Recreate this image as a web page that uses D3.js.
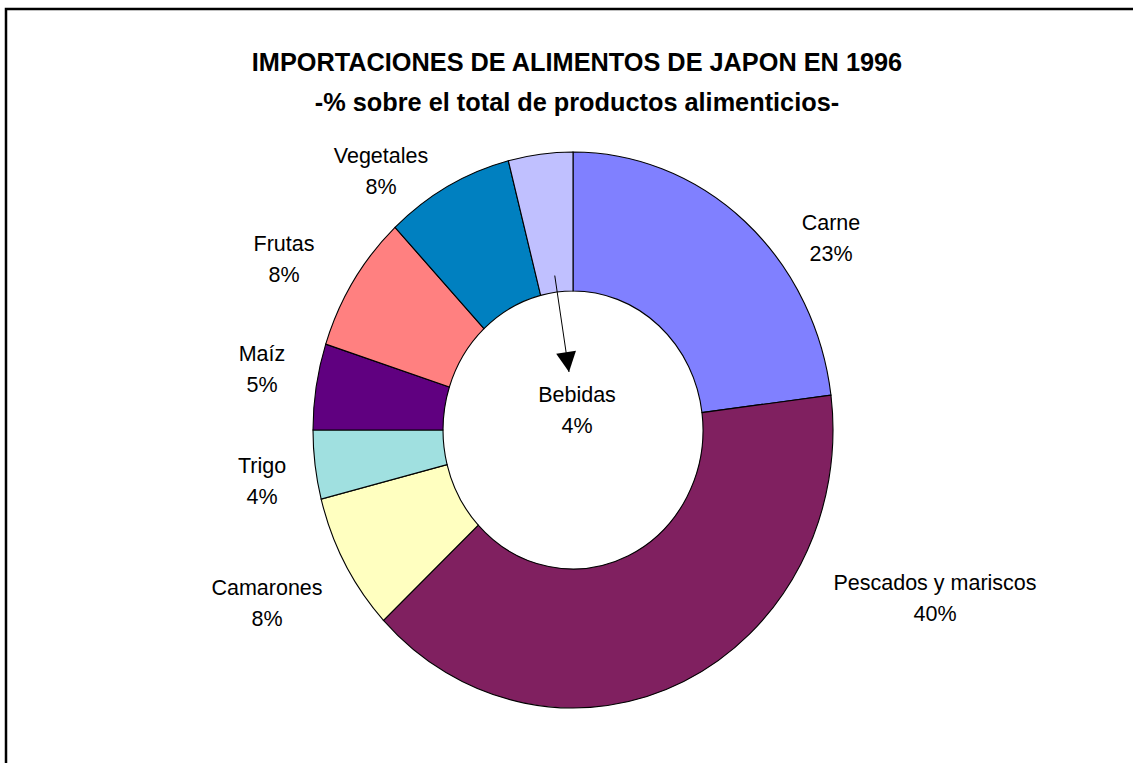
<!DOCTYPE html>
<html>
<head>
<meta charset="utf-8">
<script src="https://cdn.jsdelivr.net/npm/d3@7"></script>
<style>
  body { margin: 0; background: #fff; overflow: hidden; }
  svg { display: block; overflow: hidden; }
  text { font-family: Arial, "Liberation Sans", sans-serif; fill: #000; }
</style>
</head>
<body>
<svg id="chart" width="1133" height="763"></svg>
<script>
// data
const categories = ['Carne', 'Pescados y mariscos', 'Camarones', 'Trigo', 'Maíz', 'Frutas', 'Vegetales', 'Bebidas'];
const shares = [23, 40, 8, 4, 5, 8, 8, 4];
const colors = ['#8080FF', '#802060', '#FFFFC0', '#A0E0E0', '#600080', '#FF8080', '#0080C0', '#C0C0FF'];
const titleLines = ['IMPORTACIONES DE ALIMENTOS DE JAPON EN 1996', '-% sobre el total de productos alimenticios-'];

const width = 1133;
const height = 763;
const cx = 573;
const cy = 430;
const rOuter = 260;
const squash = 278 / 260; // the ring is a bit taller than wide

// label spots relative to the centre (layout only)
const labelSpots = [
  [258, -208], [362, 152], [-306, 157], [-311, 35],
  [-311, -77], [-289, -187], [-192, -275], [4, -36]
];

const svg = d3.select('#chart');

// frame: only the top and left edges fall inside the picture
svg.append('path')
  .attr('d', `M6,${height + 10}V9H${width + 10}`)
  .attr('fill', 'none')
  .attr('stroke', '#000')
  .attr('stroke-width', 2.5);

const title = svg.append('g').attr('font-weight', 'bold').attr('font-size', 25.3);
title.selectAll('text')
  .data(titleLines)
  .enter()
  .append('text')
  .attr('x', cx + 4)
  .attr('y', (d, i) => 62 + i * 40)
  .attr('dy', '0.35em')
  .attr('text-anchor', 'middle')
  .text(d => d);

const pie = d3.pie().sort(null).value(d => d.value);
const arc = d3.arc().innerRadius(rOuter * 0.5).outerRadius(rOuter);

const slices = pie(categories.map((name, i) => ({ name, value: shares[i] })));

const ring = svg.append('g')
  .attr('transform', `translate(${cx},${cy}) scale(1,${squash})`);

ring.selectAll('path')
  .data(slices)
  .enter()
  .append('path')
  .attr('d', arc)
  .attr('fill', (d, i) => colors[i])
  .attr('stroke', '#000')
  .attr('stroke-width', 1.1);

// leader arrow for Bebidas
const last = slices[slices.length - 1];
const mid = (last.startAngle + last.endAngle) / 2;
const ax = cx + Math.sin(mid) * rOuter * 0.56;
const ay = cy - Math.cos(mid) * rOuter * 0.56 * squash;
const tip = [cx - 4, cy - 58];
svg.append('defs').append('marker')
  .attr('id', 'head')
  .attr('viewBox', '0 0 10 10')
  .attr('refX', 10)
  .attr('refY', 5)
  .attr('markerWidth', 22)
  .attr('markerHeight', 20)
  .attr('markerUnits', 'userSpaceOnUse')
  .attr('orient', 'auto')
  .append('path')
  .attr('d', 'M0,0L10,5L0,10Z')
  .attr('fill', '#000');

svg.append('line')
  .attr('x1', ax)
  .attr('y1', ay)
  .attr('x2', tip[0])
  .attr('y2', tip[1])
  .attr('stroke', '#000')
  .attr('stroke-width', 1)
  .attr('marker-end', 'url(#head)');

const labels = svg.append('g').attr('font-size', 21.5);
const lab = labels.selectAll('g')
  .data(slices)
  .enter()
  .append('g')
  .attr('transform', (d, i) => `translate(${cx + labelSpots[i][0]},${cy + labelSpots[i][1]})`);

lab.append('text')
  .attr('text-anchor', 'middle')
  .attr('dy', '0.35em')
  .text(d => d.data.name);

lab.append('text')
  .attr('text-anchor', 'middle')
  .attr('y', 31)
  .attr('dy', '0.35em')
  .text(d => `${d.data.value}%`);
</script>
</body>
</html>
